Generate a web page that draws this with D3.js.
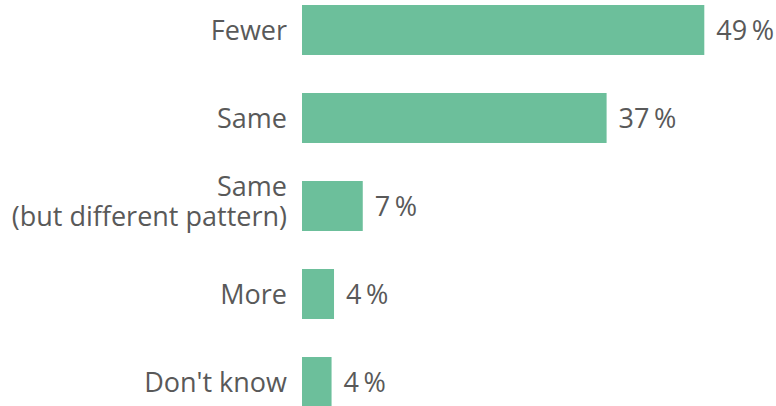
<!DOCTYPE html>
<html>
<head>
<meta charset="utf-8">
<script src="https://cdn.jsdelivr.net/npm/d3@7"></script>
<style>
  html, body { margin: 0; padding: 0; background: #ffffff; }
  svg { display: block; }
  text { font-family: "Open Sans", "Noto Sans", sans-serif; fill: #595959; }
</style>
</head>
<body>
<svg id="chart" width="776" height="406"></svg>
<script>
const categories = [["Fewer"], ["Same"], ["Same", "(but different pattern)"], ["More"], ["Don't know"]];
const values = [49, 37.1, 7.4, 3.9, 3.6];
const valueLabels = ["49\u2009%", "37\u2009%", "7\u2009%", "4\u2009%", "4\u2009%"];

const svg = d3.select("#chart");
const keys = categories.map(c => c.join(" "));
const fs = 27;

const x = d3.scaleLinear().domain([0, 49]).range([302, 704.3]);
const y = d3.scaleBand().domain(keys).range([5, 407]).paddingInner(0.432).paddingOuter(0);

const rows = svg.selectAll("g.row")
  .data(keys.map((k, i) => ({ key: k, lines: categories[i], value: values[i], label: valueLabels[i] })))
  .join("g").attr("class", "row");

rows.append("rect")
  .attr("x", x(0))
  .attr("y", d => y(d.key))
  .attr("width", d => x(d.value) - x(0))
  .attr("height", y.bandwidth())
  .attr("fill", "#6cbf9b");

rows.append("text")
  .attr("x", d => x(d.value) + 12)
  .attr("y", d => y(d.key) + y.bandwidth() / 2 + 10)
  .attr("font-size", fs)
  .text(d => d.label);

const lineH = 30;
rows.each(function(d) {
  const t = d3.select(this).append("text")
    .attr("x", x(0) - 15)
    .attr("text-anchor", "end")
    .attr("font-size", fs);
  const n = d.lines.length;
  const first = n === 1 ? 10 : -10;
  d.lines.forEach((ln, j) => {
    t.append("tspan")
      .attr("x", x(0) - 15)
      .attr("y", y(d.key) + y.bandwidth() / 2 + first + j * lineH)
      .text(ln);
  });
});
</script>
</body>
</html>
